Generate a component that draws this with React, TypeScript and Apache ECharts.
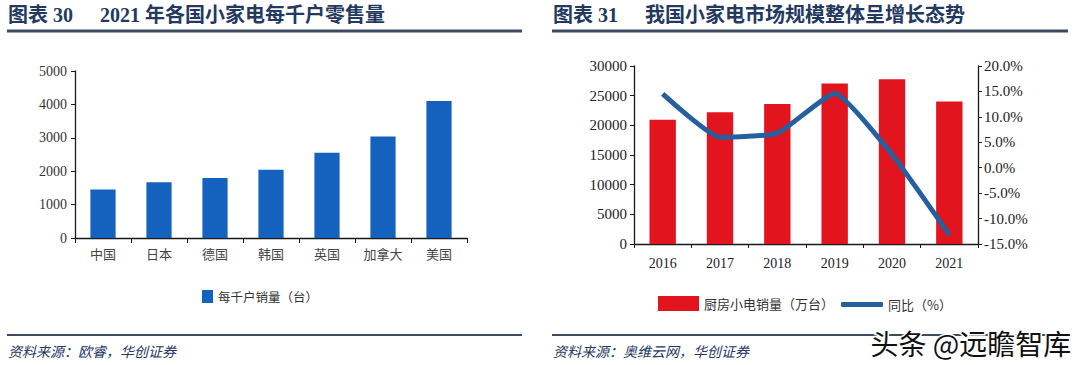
import React, { useEffect, useRef } from "react";
import * as echarts from "echarts";

const countries = ["中国", "日本", "德国", "韩国", "英国", "加拿大", "美国"];
const perThousand = [1450, 1670, 1800, 2040, 2555, 3040, 4105];

const years = ["2016", "2017", "2018", "2019", "2020", "2021"];
const sales = [20950, 22190, 23580, 27050, 27770, 24030];
const yoy = [14.5, 6.0, 6.8, 14.6, 2.6, -13.2];

const NAVY = "#24395f";
const RULE = "#3c4b62";
const SERIF = "'Liberation Serif', 'DejaVu Serif', 'Noto Sans CJK SC', serif";
const CJK = "'Noto Sans CJK SC', sans-serif";

export default function App() {
  const ref = useRef<HTMLDivElement>(null);
  useEffect(() => {
    document.body.style.margin = "0";
    if (!ref.current) return;
    const chart = echarts.init(ref.current, null, { renderer: "svg" });
    const axisLine = { show: true, lineStyle: { color: "#1a1a1a", width: 1.3 } };
    const plain = (v: number) => String(v);
    const option: any = {
      animation: false,
      backgroundColor: "#ffffff",
      grid: [
        { left: 75, top: 71, width: 392, height: 167, containLabel: false },
        { left: 634, top: 66, width: 344, height: 178, containLabel: false },
      ],
      legend: [
        {
          data: ["每千户销量（台）"],
          left: 197,
          top: 285,
          itemWidth: 11,
          itemHeight: 13,
          icon: "rect",
          itemGap: 4,
          textStyle: { fontFamily: CJK, fontSize: 12.5, color: "#333" },
        },
        {
          data: ["厨房小电销量（万台）"],
          left: 653,
          top: 291,
          itemWidth: 41,
          itemHeight: 15,
          icon: "rect",
          textStyle: { fontFamily: CJK, fontSize: 13, color: "#333" },
        },
        {
          data: ["同比（%）"],
          left: 836,
          top: 293,
          itemWidth: 42,
          itemHeight: 5,
          icon: "roundRect",
          textStyle: { fontFamily: CJK, fontSize: 13, color: "#333" },
        },
      ],
      xAxis: [
        {
          type: "category",
          gridIndex: 0,
          data: countries,
          axisLine,
          axisTick: { show: true, alignWithLabel: false, length: 5, lineStyle: { color: "#1a1a1a" } },
          axisLabel: { fontFamily: SERIF, fontSize: 13, color: "#444", margin: 10 },
        },
        {
          type: "category",
          gridIndex: 1,
          data: years,
          axisLine,
          axisTick: { show: true, alignWithLabel: false, length: 4, lineStyle: { color: "#1a1a1a" } },
          axisLabel: { fontFamily: SERIF, fontSize: 14, color: "#222", margin: 12 },
        },
      ],
      yAxis: [
        {
          type: "value",
          gridIndex: 0,
          min: 0,
          max: 5000,
          interval: 1000,
          axisLine,
          axisTick: { show: true, length: 4, lineStyle: { color: "#1a1a1a" } },
          splitLine: { show: false },
          axisLabel: { fontFamily: SERIF, fontSize: 14, color: "#333", margin: 8, formatter: plain },
        },
        {
          type: "value",
          gridIndex: 1,
          min: 0,
          max: 30000,
          interval: 5000,
          axisLine,
          axisTick: { show: true, length: 4, lineStyle: { color: "#1a1a1a" } },
          splitLine: { show: false },
          axisLabel: { fontFamily: SERIF, fontSize: 15, color: "#222", margin: 7, formatter: plain },
        },
        {
          type: "value",
          gridIndex: 1,
          position: "right",
          min: -15,
          max: 20,
          interval: 5,
          axisLine,
          axisTick: { show: true, length: 4, lineStyle: { color: "#1a1a1a" } },
          splitLine: { show: false },
          axisLabel: {
            fontFamily: SERIF,
            fontSize: 15,
            color: "#222",
            margin: 6,
            formatter: (v: number) => v.toFixed(1) + "%",
          },
        },
      ],
      series: [
        {
          name: "每千户销量（台）",
          type: "bar",
          xAxisIndex: 0,
          yAxisIndex: 0,
          data: perThousand,
          barWidth: "45%",
          itemStyle: { color: "#1462bd" },
        },
        {
          name: "厨房小电销量（万台）",
          type: "bar",
          xAxisIndex: 1,
          yAxisIndex: 1,
          data: sales,
          barWidth: "46%",
          itemStyle: { color: "#e2141d" },
        },
        {
          name: "同比（%）",
          type: "line",
          xAxisIndex: 1,
          yAxisIndex: 2,
          data: yoy,
          smooth: 0.15,
          symbol: "none",
          lineStyle: { color: "#25609e", width: 5 },
          itemStyle: { color: "#25609e" },
          z: 5,
        },
      ],
      graphic: [
        {
          type: "text",
          left: 8,
          top: 5,
          style: { text: "图表 30", fontFamily: SERIF, fontWeight: "bold", fontSize: 20, fill: NAVY },
        },
        {
          type: "text",
          left: 100,
          top: 5,
          style: {
            text: "2021 年各国小家电每千户零售量",
            fontFamily: SERIF,
            fontWeight: "bold",
            fontSize: 20,
            fill: NAVY,
          },
        },
        {
          type: "text",
          left: 553,
          top: 5,
          style: { text: "图表 31", fontFamily: SERIF, fontWeight: "bold", fontSize: 20, fill: NAVY },
        },
        {
          type: "text",
          left: 645,
          top: 5,
          style: {
            text: "我国小家电市场规模整体呈增长态势",
            fontFamily: SERIF,
            fontWeight: "bold",
            fontSize: 20,
            fill: NAVY,
          },
        },
        { type: "line", shape: { x1: 7, y1: 31, x2: 522, y2: 31 }, style: { stroke: RULE, lineWidth: 3 } },
        { type: "line", shape: { x1: 552, y1: 31, x2: 1068, y2: 31 }, style: { stroke: RULE, lineWidth: 3 } },
        { type: "line", shape: { x1: 7, y1: 335, x2: 522, y2: 335 }, style: { stroke: RULE, lineWidth: 2 } },
        { type: "line", shape: { x1: 552, y1: 335, x2: 1068, y2: 335 }, style: { stroke: RULE, lineWidth: 2 } },
        {
          type: "text",
          left: 8,
          top: 344,
          style: { text: "资料来源：欧睿，华创证券", fontFamily: CJK, fontStyle: "italic", fontSize: 14, fill: NAVY },
        },
        {
          type: "text",
          left: 553,
          top: 344,
          style: { text: "资料来源：奥维云网，华创证券", fontFamily: CJK, fontStyle: "italic", fontSize: 14, fill: NAVY },
        },
        {
          type: "text",
          left: 869,
          top: 327,
          z: 100,
          style: {
            text: "头条 @远瞻智库",
            fontFamily: CJK,
            fontSize: 28,
            fill: "#111",
            stroke: "#ffffff",
            lineWidth: 3,
          },
        },
      ],
    };
    chart.setOption(option);
    return () => chart.dispose();
  }, []);
  return <div ref={ref} style={{ width: 1080, height: 365 }} />;
}
